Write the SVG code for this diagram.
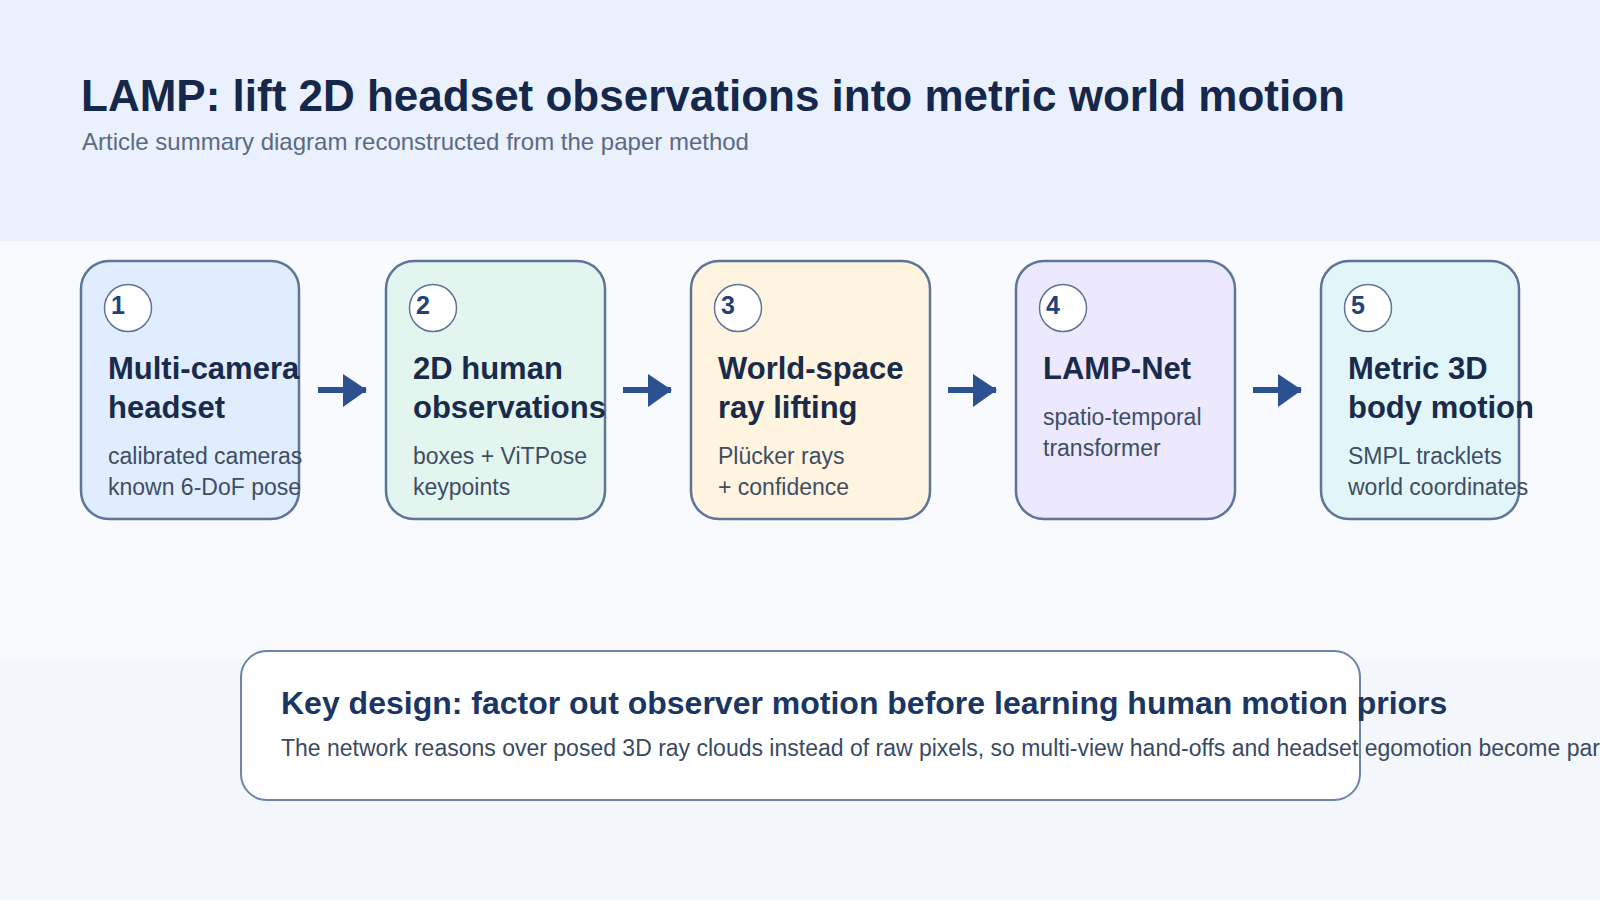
<svg xmlns="http://www.w3.org/2000/svg" width="1600" height="900" viewBox="0 0 1600 900">
  <defs>
    <style>
      .title { font-family: "Liberation Sans", Arial, sans-serif; font-weight: bold; font-size: 44px; fill: #15274A; }
      .subtitle { font-family: "Liberation Sans", Arial, sans-serif; font-size: 24px; fill: #5B6A83; }
      .card { stroke: #5E7499; stroke-width: 2.5; }
      .badge { fill: #FFFFFF; stroke: #5E7499; stroke-width: 1.5; }
      .num { font-family: "Liberation Sans", Arial, sans-serif; font-weight: bold; font-size: 25px; fill: #22427A; }
      .ctitle { font-family: "Liberation Sans", Arial, sans-serif; font-weight: bold; font-size: 31px; fill: #1A2A4B; }
      .cdesc { font-family: "Liberation Sans", Arial, sans-serif; font-size: 23px; fill: #3F4D63; }
      .conn { stroke: #2B5190; stroke-width: 6; fill: none; }
      .head { fill: #2B5190; }
      .ktitle { font-family: "Liberation Sans", Arial, sans-serif; font-weight: bold; font-size: 32px; fill: #1B3663; }
      .kbody { font-family: "Liberation Sans", Arial, sans-serif; font-size: 23px; fill: #3B4A63; }
    </style>
  </defs>

  <!-- background bands -->
  <rect x="0" y="0" width="1600" height="241" fill="#EAF1FD"/>
  <rect x="0" y="241" width="1600" height="418" fill="#F8FAFE"/>
  <rect x="0" y="659" width="1600" height="241" fill="#F3F7FB"/>

  <g id="header">
    <text class="title" x="81" y="111">LAMP: lift 2D headset observations into metric world motion</text>
    <text class="subtitle" x="82" y="150">Article summary diagram reconstructed from the paper method</text>
  </g>

  <g id="connectors">
    <line class="conn" x1="318" y1="390" x2="366" y2="390"/>
    <polygon class="head" points="343,374 367,390 343,407"/>
    <line class="conn" x1="623" y1="390" x2="671" y2="390"/>
    <polygon class="head" points="648,374 672,390 648,407"/>
    <line class="conn" x1="948" y1="390" x2="996" y2="390"/>
    <polygon class="head" points="973,374 997,390 973,407"/>
    <line class="conn" x1="1253" y1="390" x2="1301" y2="390"/>
    <polygon class="head" points="1278,374 1302,390 1278,407"/>
  </g>

  <g id="node1">
    <rect class="card" x="81" y="261" width="218" height="258" rx="28" fill="#E0EDFF"/>
    <circle class="badge" cx="128" cy="308" r="23.5"/>
    <text class="num" x="111" y="314">1</text>
    <text class="ctitle" x="108" y="379">Multi-camera</text>
    <text class="ctitle" x="108" y="418">headset</text>
    <text class="cdesc" x="108" y="464">calibrated cameras</text>
    <text class="cdesc" x="108" y="495">known 6-DoF pose</text>
  </g>

  <g id="node2">
    <rect class="card" x="386" y="261" width="219" height="258" rx="28" fill="#E3F5EF"/>
    <circle class="badge" cx="433" cy="308" r="23.5"/>
    <text class="num" x="416" y="314">2</text>
    <text class="ctitle" x="413" y="379">2D human</text>
    <text class="ctitle" x="413" y="418">observations</text>
    <text class="cdesc" x="413" y="464">boxes + ViTPose</text>
    <text class="cdesc" x="413" y="495">keypoints</text>
  </g>

  <g id="node3">
    <rect class="card" x="691" y="261" width="239" height="258" rx="28" fill="#FEF4DF"/>
    <circle class="badge" cx="738" cy="308" r="23.5"/>
    <text class="num" x="721" y="314">3</text>
    <text class="ctitle" x="718" y="379">World-space</text>
    <text class="ctitle" x="718" y="418">ray lifting</text>
    <text class="cdesc" x="718" y="464">Plücker rays</text>
    <text class="cdesc" x="718" y="495">+ confidence</text>
  </g>

  <g id="node4">
    <rect class="card" x="1016" y="261" width="219" height="258" rx="28" fill="#ECE8FD"/>
    <circle class="badge" cx="1063" cy="308" r="23.5"/>
    <text class="num" x="1046" y="314">4</text>
    <text class="ctitle" x="1043" y="379">LAMP-Net</text>
    <text class="cdesc" x="1043" y="425">spatio-temporal</text>
    <text class="cdesc" x="1043" y="456">transformer</text>
  </g>

  <g id="node5">
    <rect class="card" x="1321" y="261" width="198" height="258" rx="28" fill="#E2F6F9"/>
    <circle class="badge" cx="1368" cy="308" r="23.5"/>
    <text class="num" x="1351" y="314">5</text>
    <text class="ctitle" x="1348" y="379">Metric 3D</text>
    <text class="ctitle" x="1348" y="418">body motion</text>
    <text class="cdesc" x="1348" y="464">SMPL tracklets</text>
    <text class="cdesc" x="1348" y="495">world coordinates</text>
  </g>

  <g id="keydesign">
    <rect x="241" y="651" width="1119" height="149" rx="26" fill="#FFFFFF" stroke="#6E84A6" stroke-width="2"/>
    <text class="ktitle" x="281" y="714">Key design: factor out observer motion before learning human motion priors</text>
    <text class="kbody" x="281" y="756">The network reasons over posed 3D ray clouds instead of raw pixels, so multi-view hand-offs and headset egomotion become part</text>
  </g>
</svg>
